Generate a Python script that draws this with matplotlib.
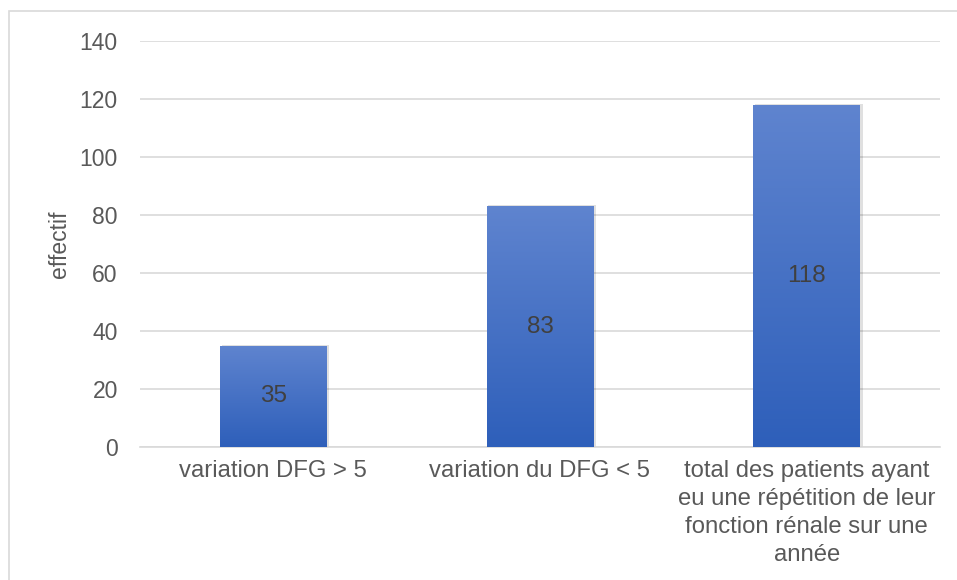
import numpy as np
import matplotlib.pyplot as plt
from matplotlib.patches import Rectangle
from matplotlib.colors import LinearSegmentedColormap

plt.rcParams['font.family'] = ['Liberation Sans', 'DejaVu Sans']

categories = ["variation DFG > 5",
              "variation du DFG < 5",
              "total des patients ayant\neu une répétition de leur\nfonction rénale sur une\nannée"]
effectifs = [35, 83, 118]
yticks = [0, 20, 40, 60, 80, 100, 120, 140]

txt = '#595959'
grid = '#d9d9d9'

fig = plt.figure(figsize=(9.57, 5.80), dpi=100)
ax = fig.add_axes([0.1463, 0.2293, 0.8359, 0.7000])

# outer frame of the chart area (runs off the right and bottom edges)
fig.patches.append(Rectangle((9 / 957, -0.1), 1.2, 1.1 - 11 / 580, transform=fig.transFigure,
                             fill=False, edgecolor=grid, linewidth=1.2))

x = np.arange(len(categories))
bars = ax.bar(x, effectifs, width=0.4, color='none', zorder=3)

# vertical gradient fill, light at the top, dark at the bottom
cmap = LinearSegmentedColormap.from_list('blues', ['#2e5fba', '#5f84cf'])
grad = np.linspace(0, 1, 256).reshape(-1, 1)
for b, v in zip(bars, effectifs):
    x0, w = b.get_x(), b.get_width()
    # soft shadow
    ax.add_patch(Rectangle((x0 + 0.006, 0), w + 0.004, v + 0.3, facecolor='#000000',
                           alpha=0.12, edgecolor='none', zorder=2))
    im = ax.imshow(grad, extent=[x0, x0 + w, 0, v], origin='lower', cmap=cmap,
                   aspect='auto', zorder=3)
    im.set_clip_path(b)
    ax.text(b.get_x() + w / 2, v / 2, str(v), ha='center', va='center',
            fontsize=17.5, color='#404040', zorder=4)

ax.set_xlim(-0.5, 2.5)
ax.set_ylim(0, 140)
ax.set_yticks(yticks)
ax.set_xticks(x)
ax.set_xticklabels(categories, linespacing=1.36, fontsize=17.2)
ax.tick_params(axis='both', length=0, labelcolor=txt)
ax.tick_params(axis='y', pad=16, labelsize=16.5)
ax.tick_params(axis='x', pad=9)
ax.grid(axis='y', color=grid, linewidth=1.2, zorder=0)
ax.set_axisbelow(True)
for s in ['top', 'right', 'left']:
    ax.spines[s].set_visible(False)
ax.spines['bottom'].set_color(grid)
ax.spines['bottom'].set_linewidth(1.2)

ax.set_ylabel('effectif', fontsize=16.5, color=txt, labelpad=6)

fig.savefig('out.png', dpi=100)
